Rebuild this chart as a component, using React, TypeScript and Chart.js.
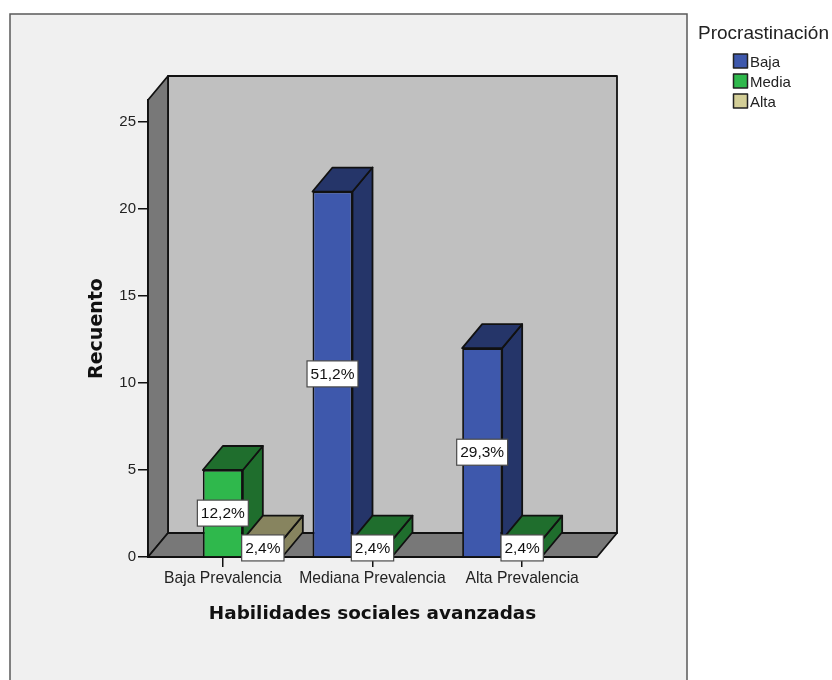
import React, { useEffect, useRef } from "react";
import { Chart, registerables } from "chart.js";

Chart.register(...registerables);

const categories = ["Baja Prevalencia", "Mediana Prevalencia", "Alta Prevalencia"];
const seriesNames = ["Baja", "Media", "Alta"];
const bajaCounts = [null, 21, 12];
const mediaCounts = [5, 1, 1];
const altaCounts = [1, null, null];
const bajaPercents = [null, "51,2%", "29,3%"];
const mediaPercents = ["12,2%", "2,4%", "2,4%"];
const altaPercents = ["2,4%", null, null];
const yTicks = [0, 5, 10, 15, 20, 25];

const FRONT = ["#3e58ac", "#2fb84c", "#d3ce97"];
const SHADE = ["#253569", "#1f6e2d", "#87845f"];
const DEPTH_X = 20;
const DEPTH_Y = 24;
const SANS = "'Liberation Sans', Arial, sans-serif";

function poly(ctx: CanvasRenderingContext2D, pts: number[][], fill: string, stroke = "#111", lw = 1.8) {
  ctx.beginPath();
  pts.forEach(([x, y], i) => (i ? ctx.lineTo(x, y) : ctx.moveTo(x, y)));
  ctx.closePath();
  ctx.fillStyle = fill;
  ctx.fill();
  ctx.lineWidth = lw;
  ctx.strokeStyle = stroke;
  ctx.lineJoin = "round";
  ctx.stroke();
}

// Panel, 3D walls and the side and top faces of each bar, painted under the front faces.
const scenePlugin = {
  id: "scene",
  beforeDraw(chart: any) {
    const { ctx, chartArea: a, height } = chart;
    ctx.save();
    ctx.fillStyle = "#f0f0f0";
    ctx.fillRect(10, 14, 677, height);
    ctx.strokeStyle = "#5a5a5a";
    ctx.lineWidth = 1.5;
    ctx.strokeRect(10, 14, 677, height);
    poly(ctx, [[a.left + DEPTH_X, a.top - DEPTH_Y], [a.right + DEPTH_X, a.top - DEPTH_Y], [a.right + DEPTH_X, a.bottom - DEPTH_Y], [a.left + DEPTH_X, a.bottom - DEPTH_Y]], "#c0c0c0");
    poly(ctx, [[a.left, a.top], [a.left + DEPTH_X, a.top - DEPTH_Y], [a.left + DEPTH_X, a.bottom - DEPTH_Y], [a.left, a.bottom]], "#787878");
    poly(ctx, [[a.left, a.bottom], [a.left + DEPTH_X, a.bottom - DEPTH_Y], [a.right + DEPTH_X, a.bottom - DEPTH_Y], [a.right, a.bottom]], "#787878");
    ctx.restore();

    // Legend
    ctx.save();
    ctx.textBaseline = "middle";
    ctx.textAlign = "left";
    ctx.fillStyle = "#222";
    ctx.font = `19px ${SANS}`;
    ctx.fillText("Procrastinación", 698, 34);
    ctx.font = `15px ${SANS}`;
    seriesNames.forEach((name: string, i: number) => {
      const y = 54 + i * 20;
      poly(ctx, [[733.5, y], [747.5, y], [747.5, y + 14], [733.5, y + 14]], FRONT[i], "#222", 1.5);
      ctx.fillStyle = "#222";
      ctx.fillText(name, 750, y + 9);
    });
    ctx.restore();
  },
  beforeDatasetsDraw(chart: any) {
    const { ctx } = chart;
    const bars: { el: any; ds: number }[] = [];
    chart.data.datasets.forEach((d: any, ds: number) => {
      chart.getDatasetMeta(ds).data.forEach((el: any, j: number) => {
        if (d.data[j] != null) bars.push({ el, ds });
      });
    });
    bars.sort((p, q) => p.el.x - q.el.x);
    ctx.save();
    bars.forEach(({ el, ds }) => {
      const l = el.x - el.width / 2;
      const r = el.x + el.width / 2;
      poly(ctx, [[r, el.y], [r + DEPTH_X, el.y - DEPTH_Y], [r + DEPTH_X, el.base - DEPTH_Y], [r, el.base]], SHADE[ds]);
      poly(ctx, [[l, el.y], [l + DEPTH_X, el.y - DEPTH_Y], [r + DEPTH_X, el.y - DEPTH_Y], [r, el.y]], SHADE[ds]);
    });
    ctx.restore();
  },
  afterDatasetsDraw(chart: any) {
    const { ctx } = chart;
    ctx.save();
    ctx.font = `15.5px ${SANS}`;
    ctx.textAlign = "center";
    ctx.textBaseline = "middle";
    chart.data.datasets.forEach((d: any, ds: number) => {
      chart.getDatasetMeta(ds).data.forEach((el: any, j: number) => {
        const text = d.percents[j];
        if (text == null) return;
        const w = ctx.measureText(text).width + 7;
        const h = 26;
        const cy = (el.y + el.base) / 2;
        ctx.fillStyle = "#fff";
        ctx.fillRect(el.x - w / 2, cy - h / 2, w, h);
        ctx.strokeStyle = "#4a4a4a";
        ctx.lineWidth = 1.2;
        ctx.strokeRect(el.x - w / 2, cy - h / 2, w, h);
        ctx.fillStyle = "#111";
        ctx.fillText(text, el.x, cy + 1);
      });
    });
    ctx.restore();
  },
};

export default function App() {
  const ref = useRef<HTMLCanvasElement>(null);

  useEffect(() => {
    const datasetOf = (i: number, data: any[], percents: any[]) => ({
      label: seriesNames[i],
      data,
      percents,
      backgroundColor: FRONT[i],
      borderColor: "#111",
      borderWidth: 1.8,
      barPercentage: 1,
      categoryPercentage: 120 / 149.67,
    });
    const chart = new Chart(ref.current!, {
      type: "bar",
      data: {
        labels: categories,
        datasets: [
          datasetOf(0, bajaCounts, bajaPercents),
          datasetOf(1, mediaCounts, mediaPercents),
          datasetOf(2, altaCounts, altaPercents),
        ] as any,
      },
      plugins: [scenePlugin],
      options: {
        animation: false,
        responsive: false,
        layout: { padding: { top: 100, right: 235, left: 0, bottom: 0 } },
        plugins: { legend: { display: false }, tooltip: { enabled: false } },
        scales: {
          x: {
            afterFit: (s: any) => { s.height = 123; },
            grid: { display: true, offset: false, drawOnChartArea: false, drawTicks: true, tickLength: 10, color: "#111", lineWidth: 1.5 },
            border: { display: true, color: "#111", width: 1.5 },
            ticks: { padding: 2, color: "#222", font: { family: SANS, size: 15.7 }, maxRotation: 0, autoSkip: false },
            title: {
              display: true,
              text: "Habilidades sociales avanzadas",
              color: "#111",
              font: { family: "'DejaVu Sans', sans-serif", size: 18.4, weight: "bold" },
              padding: { top: 0, bottom: 55 },
            },
          },
          y: {
            min: 0,
            max: 26.26,
            afterFit: (s: any) => { s.width = 148; },
            afterBuildTicks: (s: any) => { s.ticks = yTicks.map((value) => ({ value })); },
            grid: { display: true, drawOnChartArea: false, drawTicks: true, tickLength: 10, color: "#111", lineWidth: 1.5 },
            border: { display: true, color: "#111", width: 1.5 },
            ticks: { padding: 2, color: "#222", font: { family: SANS, size: 15 }, includeBounds: false },
            title: {
              display: true,
              text: "Recuento",
              color: "#111",
              font: { family: "'DejaVu Sans', sans-serif", size: 19, weight: "bold" },
              padding: { top: 86, bottom: 0 },
            },
          },
        },
      } as any,
    });
    return () => chart.destroy();
  }, []);

  return (
    <div style={{ position: "absolute", left: 0, top: 0, width: 832, height: 680, background: "#fff" }}>
      <canvas ref={ref} width={832} height={680} style={{ display: "block" }} />
    </div>
  );
}
